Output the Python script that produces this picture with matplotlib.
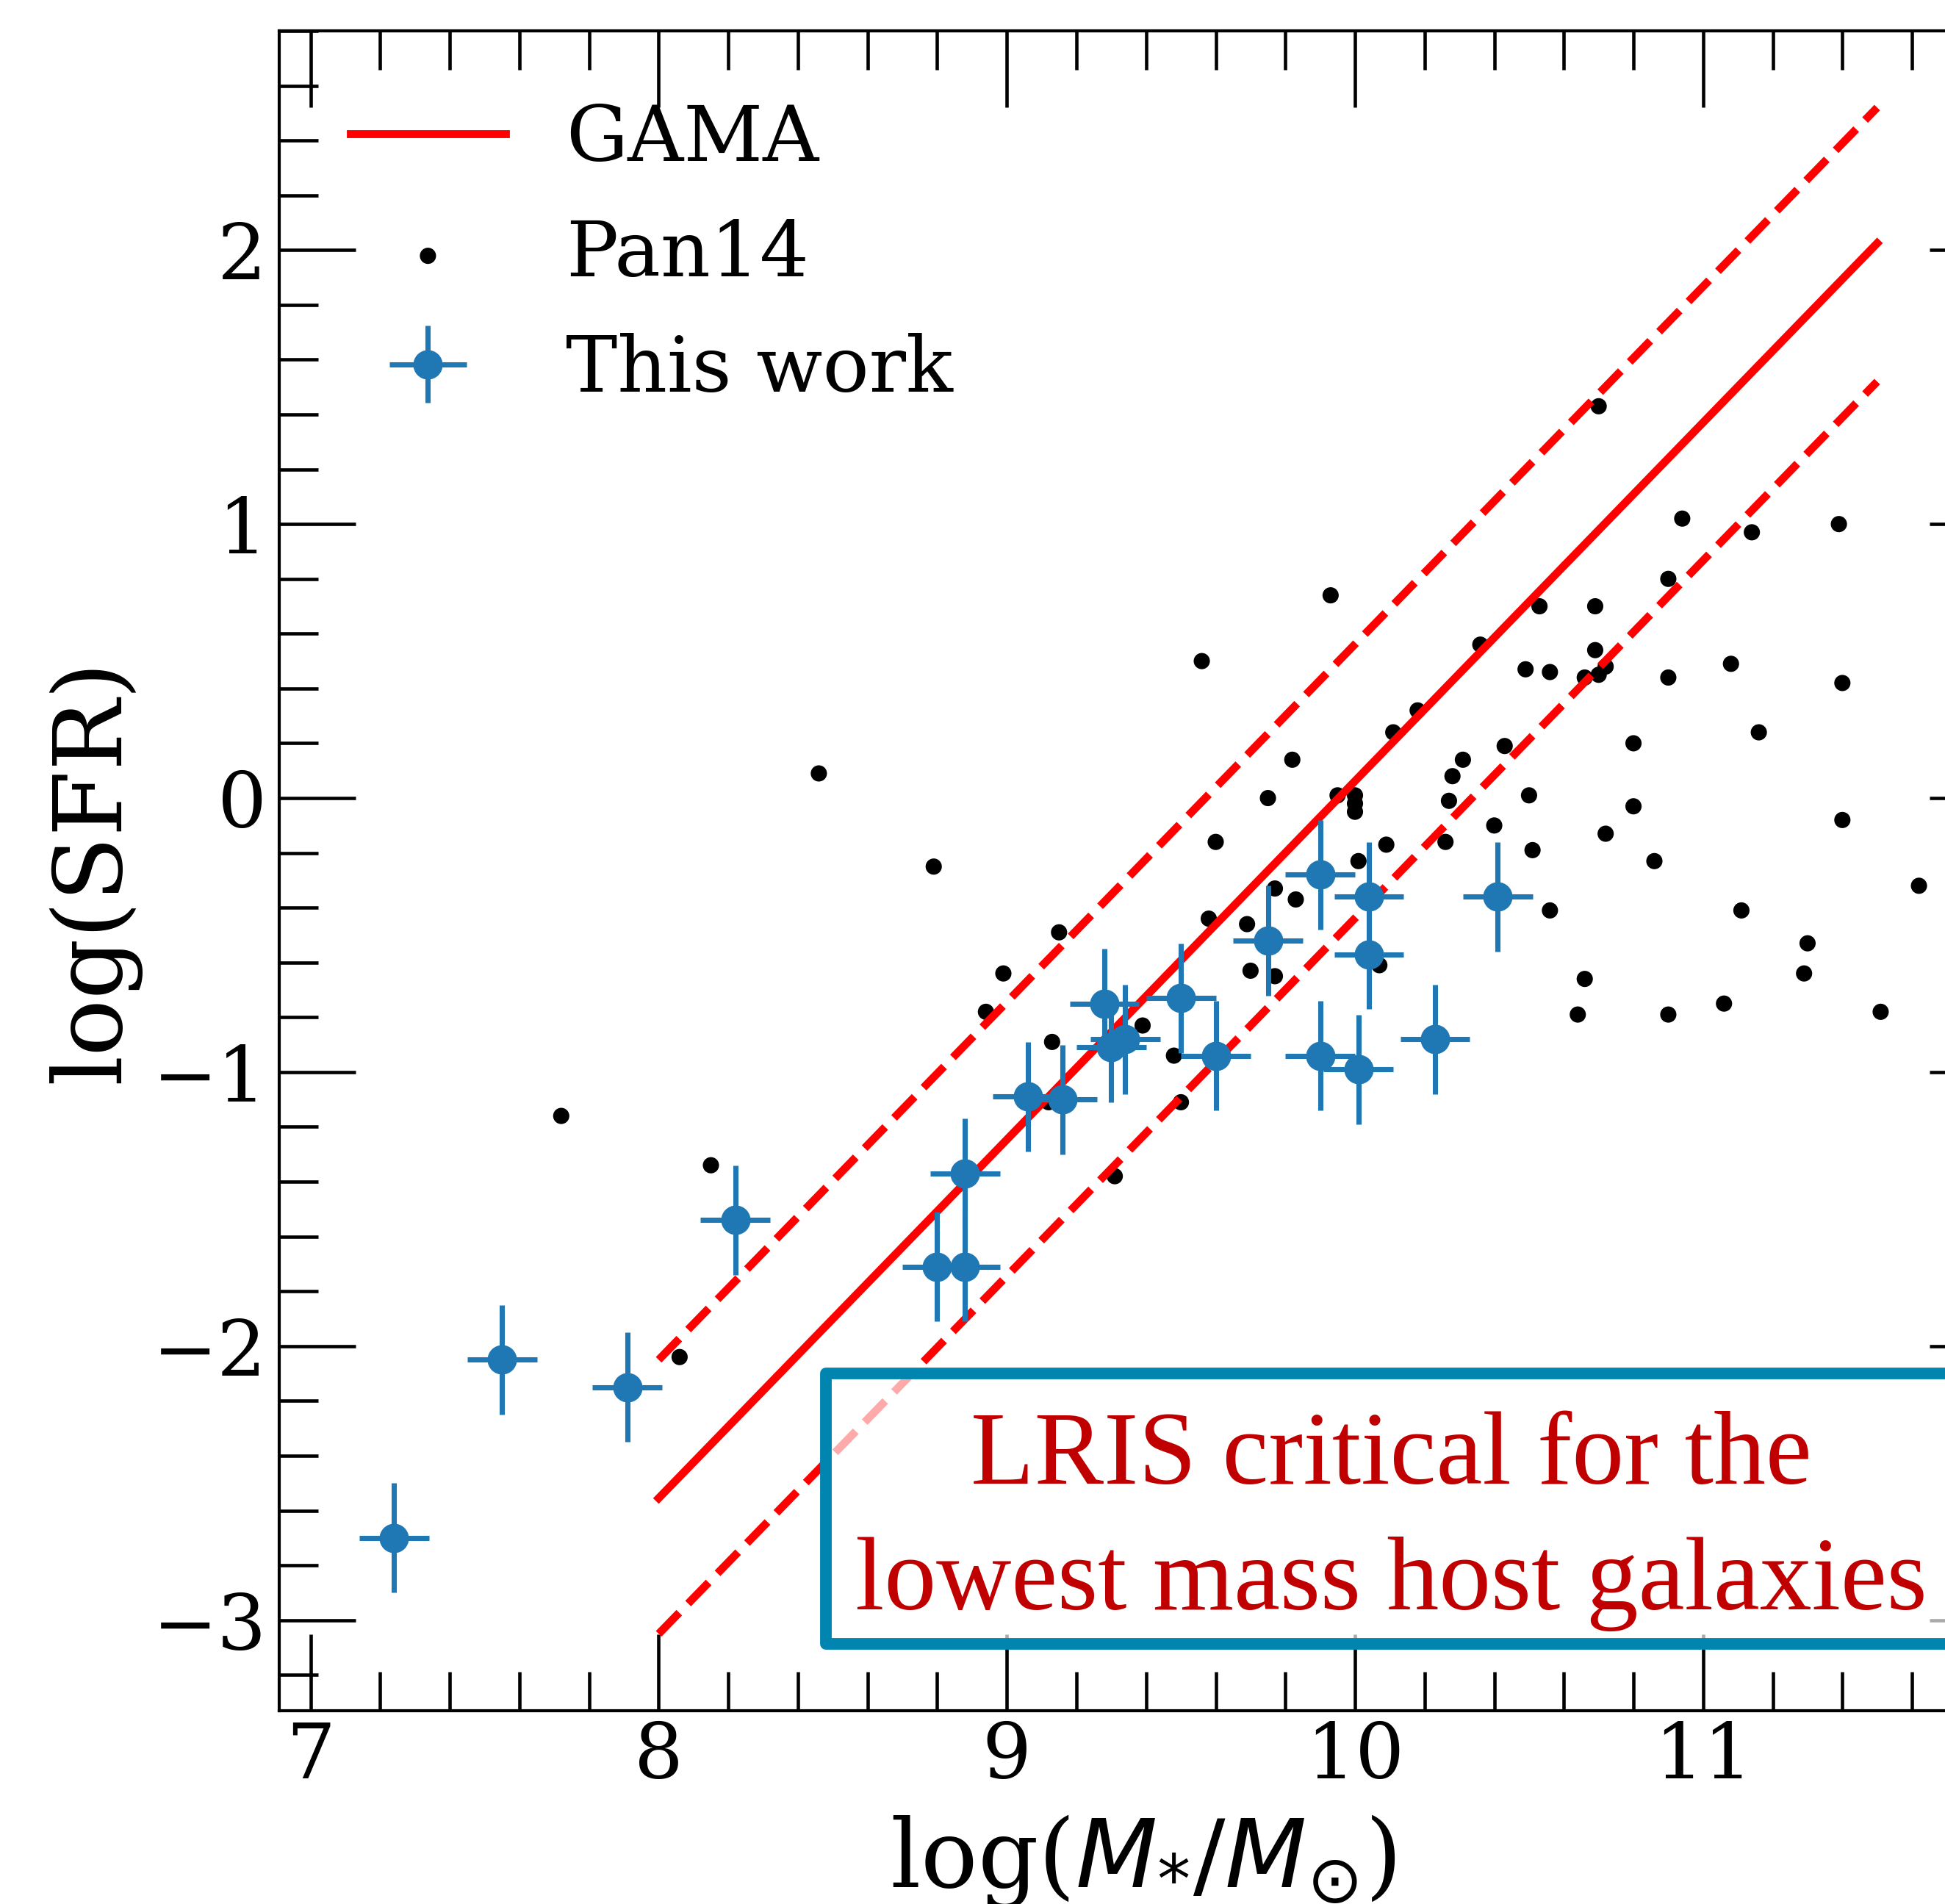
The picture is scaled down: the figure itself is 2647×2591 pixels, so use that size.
import matplotlib
matplotlib.use('Agg')
import matplotlib.pyplot as plt
from matplotlib.ticker import MultipleLocator
from matplotlib.patches import Rectangle
import numpy as np

plt.rcParams['font.family'] = 'serif'
plt.rcParams['font.serif'] = ['DejaVu Serif']
plt.rcParams['mathtext.fontset'] = 'dejavusans'
plt.rcParams['font.size'] = 25.3

# GAMA main sequence and its +-0.5 dex envelope
gama_x = [8.0, 11.5]
gama_mid = [-2.555, 2.025]
gama_hi = [-2.05, 2.52]
gama_lo = [-3.05, 1.52]

# Pan14 hosts
pan_x = [7.72, 8.15, 8.06, 8.46, 8.79, 8.99, 8.94, 9.15, 9.13, 9.12,
         9.31, 9.39, 9.48, 9.50, 9.56, 9.60, 9.58, 9.69, 9.70, 9.77,
         9.77, 9.83, 9.75, 9.82, 9.93, 9.95, 10.00, 10.00, 10.00, 10.01,
         10.09, 10.07, 10.11, 10.18, 10.28, 10.31, 10.27, 10.26, 10.36, 10.40,
         10.43, 10.49, 10.50, 10.51, 10.53, 10.56, 10.56, 10.64, 10.66, 10.66,
         10.69, 10.69, 10.70, 10.72, 10.70, 10.72, 10.80, 10.80, 10.86, 10.90,
         10.90, 10.90, 10.94, 11.08, 11.06, 11.11, 11.14, 11.16, 11.30, 11.29,
         11.39, 11.40, 11.40, 11.51, 11.62]
pan_y = [-1.16, -1.34, -2.04, 0.09, -0.25, -0.64, -0.78, -0.49, -0.89, -1.11,
         -1.38, -0.83, -0.94, -1.11, 0.50, -0.16, -0.44, -0.46, -0.63, -0.65,
         -0.33, -0.37, 0.00, 0.14, 0.74, 0.01, 0.01, -0.02, -0.05, -0.23,
         -0.17, -0.61, 0.24, 0.32, 0.08, 0.14, -0.01, -0.16, 0.56, -0.10,
         0.19, 0.47, 0.01, -0.19, 0.70, 0.46, -0.41, -0.79, -0.66, 0.44,
         0.70, 0.54, 0.45, 0.48, 1.43, -0.13, 0.20, -0.03, -0.23, 0.80,
         0.44, -0.79, 1.02, 0.49, -0.75, -0.41, 0.97, 0.24, -0.53, -0.64,
         1.00, 0.42, -0.08, -0.78, -0.32]

# this work
work_x = [7.24, 7.55, 7.91, 8.22, 8.80, 8.88, 8.88, 9.06, 9.16, 9.28, 9.30,
          9.34, 9.50, 9.60, 9.75, 9.90, 9.90, 10.01, 10.04, 10.04, 10.23, 10.41]
work_y = [-2.70, -2.05, -2.15, -1.54, -1.71, -1.71, -1.37, -1.09, -1.10, -0.75, -0.91,
          -0.88, -0.73, -0.94, -0.52, -0.28, -0.94, -0.99, -0.36, -0.57, -0.88, -0.36]
work_xerr = 0.1
work_yerr = 0.2

fig = plt.figure(figsize=(2647 / 300, 2591 / 300), dpi=300)
ax = fig.add_axes([0.14356, 0.10162, 0.8878, 0.88217])

ax.plot(gama_x, gama_mid, color='r', lw=2.6, label='GAMA')
ax.plot(gama_x, gama_hi, color='r', lw=2.6, ls='--')
ax.plot(gama_x, gama_lo, color='r', lw=2.6, ls='--')
ax.scatter(pan_x, pan_y, s=5.3**2, c='k', edgecolors='none', label='Pan14')
ax.errorbar(work_x, work_y, xerr=work_xerr, yerr=work_yerr, fmt='o', color='C0',
            ms=8.6, elinewidth=1.7, capsize=0, label='This work')

ax.set_xlim(6.91, 11.87)
ax.set_ylim(-3.33, 2.8)
ax.xaxis.set_major_locator(MultipleLocator(1))
ax.xaxis.set_minor_locator(MultipleLocator(0.2))
ax.yaxis.set_major_locator(MultipleLocator(1))
ax.yaxis.set_minor_locator(MultipleLocator(0.2))
ax.tick_params(which='both', direction='in', top=True, right=True, width=1.1)
ax.tick_params(axis='x', pad=3.0)
ax.tick_params(axis='y', pad=4.0)
ax.tick_params(which='major', length=25)
ax.tick_params(which='minor', length=12.7)
for s in ax.spines.values():
    s.set_linewidth(1.0)

ax.set_xlabel(r'log($M_{*}/M_{\odot}$)', fontsize=31, labelpad=6)
ax.set_ylabel('log(SFR)', fontsize=31, labelpad=4)

ax.legend(loc='upper left', frameon=False, fontsize=25.3, borderaxespad=0.52,
          labelspacing=0.52, handletextpad=0.78)

# note box (extends past the right edge like the original crop)
ax.add_patch(Rectangle((8.48, -3.086), 4.0, 0.985, facecolor=(1, 1, 1, 0.67),
                       edgecolor='#0085b0', lw=3.8, joinstyle='round',
                       zorder=4.9, clip_on=False))
ax.text(10.105, -2.96, 'LRIS critical for the\nlowest mass host galaxies',
        ha='center', va='baseline', multialignment='center', fontsize=34,
        linespacing=1.42, family='Liberation Serif', color='#c00000', zorder=5)

fig.savefig('out.png', dpi=300)
